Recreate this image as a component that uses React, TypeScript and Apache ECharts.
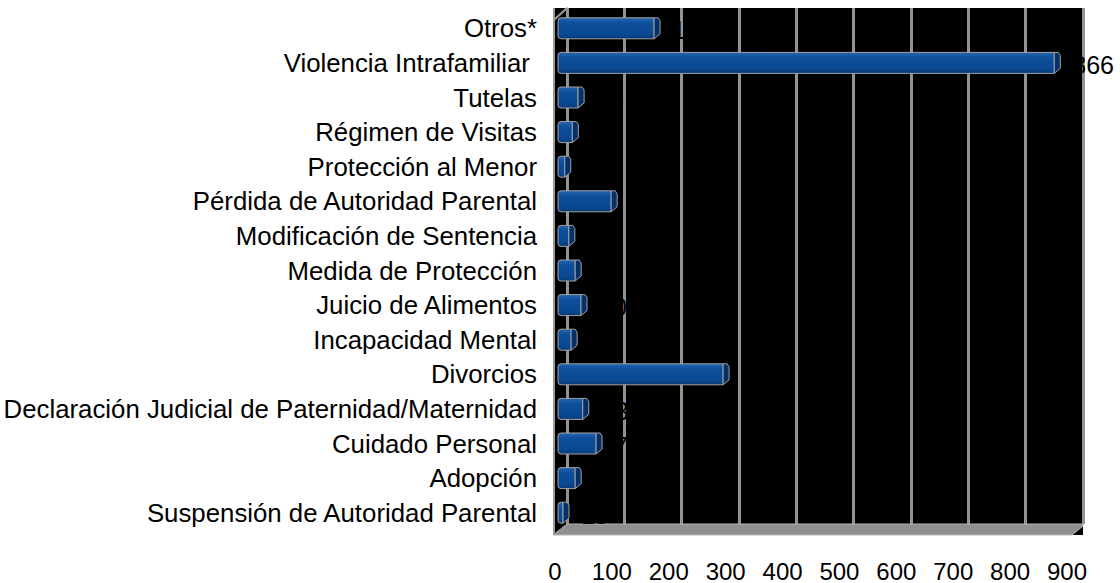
import React, { useEffect, useRef } from "react";
import * as echarts from "echarts";

const categories = [
  "Otros*",
  "Violencia Intrafamiliar ",
  "Tutelas",
  "Régimen de Visitas",
  "Protección al Menor",
  "Pérdida de Autoridad Parental",
  "Modificación de Sentencia",
  "Medida de Protección",
  "Juicio de Alimentos",
  "Incapacidad Mental",
  "Divorcios",
  "Declaración Judicial de Paternidad/Maternidad",
  "Cuidado Personal",
  "Adopción",
  "Suspensión de Autoridad Parental",
];
const values = [176, 866, 45, 35, 22, 102, 29, 40, 50, 33, 295, 53, 76, 40, 19];
const axisMin = 0;
const axisMax = 900;
const axisStep = 100;

const FONT = '"Liberation Sans", Arial, sans-serif';

export default function App() {
  const ref = useRef<HTMLDivElement>(null);
  useEffect(() => {
    document.body.style.margin = "0";
    const chart = echarts.init(ref.current!, null, { renderer: "svg" });
    const barFill = new echarts.graphic.LinearGradient(0, 0, 0, 1, [
      { offset: 0, color: "#2466b0" },
      { offset: 0.25, color: "#0d4f9a" },
      { offset: 0.8, color: "#0a4891" },
      { offset: 1, color: "#063a76" },
    ]);
    const option: any = {
      animation: false,
      backgroundColor: "#fff",
      grid: [
        { left: 553, right: 37, top: 8, bottom: 48, show: true, backgroundColor: "#000", borderWidth: 0 },
        { left: 567, right: 37, top: 8, bottom: 59 },
        { left: 558, right: 40, top: 11, bottom: 53 },
        { left: 555, right: 53, top: 8, bottom: 59 },
      ],
      xAxis: [
        { gridIndex: 0, type: "value", show: false, min: 0, max: 1 },
        {
          gridIndex: 1, type: "value", min: axisMin, max: axisMax, interval: axisStep,
          axisLine: { show: false }, axisTick: { show: false }, axisLabel: { show: false },
          splitLine: { show: true, lineStyle: { color: "#939393", width: 3 } },
        },
        { gridIndex: 2, type: "value", min: axisMin, max: axisMax, show: false },
        {
          gridIndex: 3, type: "value", min: axisMin, max: axisMax, interval: axisStep,
          axisLine: { show: false }, axisTick: { show: false }, splitLine: { show: false },
          axisLabel: { show: true, color: "#000", fontSize: 24, fontFamily: FONT, margin: 35 },
        },
      ],
      yAxis: [
        { gridIndex: 0, type: "value", show: false, min: 0, max: 1 },
        { gridIndex: 1, type: "category", show: false, data: categories },
        {
          gridIndex: 2, type: "category", data: categories, inverse: true,
          axisLine: { show: false }, axisTick: { show: false }, splitLine: { show: false },
          axisLabel: { color: "#000", fontSize: 25.8, fontFamily: FONT, margin: 21 },
        },
        { gridIndex: 3, type: "category", show: false, data: categories },
      ],
      graphic: [
        {
          type: "polygon", z: 1, silent: true,
          shape: { points: [[553, 535], [567, 524], [1083, 524], [1083, 526], [1072, 535]] },
          style: { fill: "#8f8f8f", stroke: "#b4b4b4", lineWidth: 1 },
        },
        {
          type: "line", z: 1, silent: true,
          shape: { x1: 554, y1: 8, x2: 554, y2: 535 },
          style: { stroke: "#9a9a9a", lineWidth: 2 },
        },
        {
          type: "polygon", z: 1, silent: true,
          shape: { points: [[553, 20], [566, 8], [568, 8], [555, 20]] },
          style: { fill: "#9a9a9a", stroke: "#9a9a9a", lineWidth: 1 },
        },
      ],
      series: [
        {
          type: "custom",
          xAxisIndex: 2,
          yAxisIndex: 2,
          z: 3,
          encode: { x: 0, y: 1 },
          data: values.map((v, i) => [v, i]),
          renderItem: (params: any, api: any) => {
            const v = api.value(0);
            const c = api.value(1);
            const p0 = api.coord([0, c]);
            const p1 = api.coord([v, c]);
            const y = p0[1];
            const x0 = p0[0];
            const x1 = p1[0];
            const h = 10.5;
            const d = 6;
            return {
              type: "group",
              children: [
                {
                  type: "rect",
                  shape: { x: x0, y: y - h, width: Math.max(x1 - d - x0, 2), height: 2 * h, r: [3, 0, 0, 3] },
                  style: { fill: barFill, stroke: "#a2a2a2", lineWidth: 1 },
                },
                {
                  type: "polygon",
                  shape: {
                    points: [
                      [x1 - d, y - h],
                      [x1 - 2, y - h],
                      [x1, y - h + 3],
                      [x1, y + h - 5],
                      [x1 - d, y + h],
                    ],
                  },
                  style: { fill: "#06306a", stroke: "#a2a2a2", lineWidth: 1 },
                },
                {
                  type: "text",
                  style: {
                    text: String(v), x: x1 + 12, y: y + 2, fill: "#000",
                    font: `25px ${FONT}`, verticalAlign: "middle", align: "left",
                  },
                },
              ],
            };
          },
        },
      ],
    };
    chart.setOption(option);
    return () => chart.dispose();
  }, []);
  return <div ref={ref} style={{ width: 1120, height: 583 }} />;
}
